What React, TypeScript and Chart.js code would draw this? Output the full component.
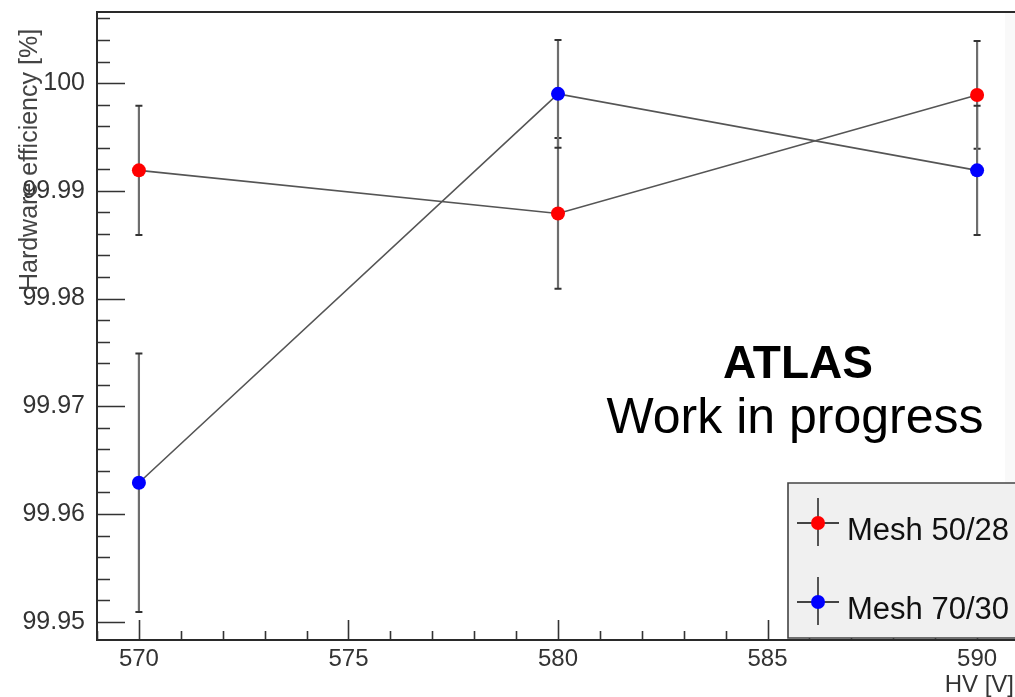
import React, { useEffect, useRef } from "react";
import { Chart, registerables } from "chart.js";

Chart.register(...registerables);

// ---- data ----
const HV_VALUES = [570, 580, 590];
const MESH_50_28 = [99.9919, 99.9879, 99.9989];
const MESH_50_28_ERR = [0.006, 0.007, 0.005];
const MESH_70_30 = [99.9629, 99.999, 99.9919];
const MESH_70_30_ERR = [0.012, 0.005, 0.006];
const SERIES_LABELS = ["Mesh 50/28", "Mesh 70/30"];
const SERIES_COLORS = ["#ff0000", "#0000ff"];

const X_TICKS = [570, 575, 580, 585, 590];
const X_TICK_LABELS = ["570", "575", "580", "585", "590"];
const Y_TICKS = [99.95, 99.96, 99.97, 99.98, 99.99, 100];
const Y_TICK_LABELS = ["99.95", "99.96", "99.97", "99.98", "99.99", "100"];
const X_MIN = 569;
const X_MAX = 591;
const Y_MIN = 99.9483;
const Y_MAX = 100.0066;

const X_TITLE = "HV [V]";
const Y_TITLE = "Hardware efficiency [%]";
const BANNER_1 = "ATLAS";
const BANNER_2 = "Work in progress";

const FONT = '"Liberation Sans", Arial, Helvetica, sans-serif';
const CANVAS_W = 1040;
const CANVAS_H = 697;

const ERRORS = [MESH_50_28_ERR, MESH_70_30_ERR];

const rootPlugin = {
  id: "rootStyle",
  beforeDatasetsDraw(chart: any) {
    const ctx = chart.ctx;
    const xs = chart.scales.x;
    const ys = chart.scales.y;
    ctx.save();
    chart.data.datasets.forEach((ds: any, di: number) => {
      const errs = ERRORS[di];
      ds.data.forEach((p: any, i: number) => {
        const px = xs.getPixelForValue(p.x);
        const yt = ys.getPixelForValue(p.y + errs[i]);
        const yb = ys.getPixelForValue(p.y - errs[i]);
        ctx.strokeStyle = "#6e6e6e";
        ctx.lineWidth = 2.2;
        ctx.beginPath();
        ctx.moveTo(px, yt);
        ctx.lineTo(px, yb);
        ctx.stroke();
        ctx.strokeStyle = "#333";
        ctx.lineWidth = 2;
        ctx.beginPath();
        ctx.moveTo(px - 3.5, yt);
        ctx.lineTo(px + 3.5, yt);
        ctx.moveTo(px - 3.5, yb);
        ctx.lineTo(px + 3.5, yb);
        ctx.stroke();
      });
    });
    ctx.restore();
  },
  beforeDraw(chart: any) {
    const ctx = chart.ctx;
    const a = chart.chartArea;
    ctx.save();
    ctx.fillStyle = "#ffffff";
    ctx.fillRect(0, 0, chart.width, chart.height);
    ctx.fillStyle = "#f9f9f9";
    ctx.fillRect(1005, a.top, a.right - 1005, a.bottom - a.top);
    ctx.restore();
  },
  afterDraw(chart: any) {
    const ctx = chart.ctx;
    const a = chart.chartArea;
    const xs = chart.scales.x;
    const ys = chart.scales.y;
    ctx.save();

    // ticks (inward)
    ctx.strokeStyle = "#333";
    ctx.lineWidth = 1.6;
    ctx.beginPath();
    for (let k = -1; k <= 30; k++) {
      const vv = 99.95 + k * 0.002;
      if (vv < Y_MIN || vv > Y_MAX) continue;
      const y = Math.round(ys.getPixelForValue(vv)) + 0.5;
      const major = k % 5 === 0;
      const len = major ? 28 : 13;
      ctx.moveTo(a.left, y);
      ctx.lineTo(a.left + len, y);
    }
    for (let v = 569; v <= 591; v += 1) {
      const x = Math.round(xs.getPixelForValue(v)) + 0.5;
      const major = v % 5 === 0;
      const len = major ? 20 : 9;
      ctx.moveTo(x, a.bottom);
      ctx.lineTo(x, a.bottom - len);
    }
    ctx.stroke();

    // frame
    ctx.strokeStyle = "#2a2a2a";
    ctx.lineWidth = 2;
    ctx.strokeRect(a.left, a.top, a.right - a.left, a.bottom - a.top);

    // axis titles
    ctx.fillStyle = "#333";
    ctx.font = `24px ${FONT}`;
    ctx.textAlign = "right";
    ctx.textBaseline = "alphabetic";
    ctx.fillText(X_TITLE, 1014, 692);

    ctx.save();
    ctx.translate(37, 160);
    ctx.rotate(-Math.PI / 2);
    ctx.font = `25px ${FONT}`;
    ctx.textAlign = "center";
    ctx.fillStyle = "#444";
    ctx.fillText(Y_TITLE, 0, 0);
    ctx.restore();

    // banner
    ctx.fillStyle = "#000";
    ctx.textAlign = "center";
    ctx.font = `bold 46px ${FONT}`;
    ctx.fillText(BANNER_1, 798, 378);
    ctx.font = `50px ${FONT}`;
    ctx.fillText(BANNER_2, 795, 433);

    // legend
    const lx = 788, ly = 483, lb = 638;
    ctx.fillStyle = "#f0f0f0";
    ctx.fillRect(lx, ly, CANVAS_W - lx, lb - ly);
    ctx.strokeStyle = "#444";
    ctx.lineWidth = 1.6;
    ctx.beginPath();
    ctx.moveTo(CANVAS_W, ly);
    ctx.lineTo(lx, ly);
    ctx.lineTo(lx, lb);
    ctx.lineTo(CANVAS_W, lb);
    ctx.stroke();
    const rowY = [523, 602];
    SERIES_LABELS.forEach((lab, i) => {
      const cy = rowY[i];
      const mx = 818;
      ctx.strokeStyle = "#444";
      ctx.lineWidth = 1.8;
      ctx.beginPath();
      ctx.moveTo(797, cy);
      ctx.lineTo(839, cy);
      ctx.moveTo(mx, cy - 25);
      ctx.lineTo(mx, cy + 23);
      ctx.stroke();
      ctx.fillStyle = SERIES_COLORS[i];
      ctx.beginPath();
      ctx.arc(mx, cy, 7, 0, Math.PI * 2);
      ctx.fill();
      ctx.fillStyle = "#111";
      ctx.textAlign = "left";
      ctx.font = `31px ${FONT}`;
      ctx.fillText(lab, 847, cy + 17);
    });
    ctx.restore();
  },
};

export default function App() {
  const ref = useRef<HTMLCanvasElement | null>(null);
  useEffect(() => {
    if (!ref.current) return;
    const mk = (vals: number[]) => HV_VALUES.map((x, i) => ({ x, y: vals[i] }));
    const chart = new Chart(ref.current, {
      type: "scatter",
      data: {
        datasets: [
          {
            label: SERIES_LABELS[0],
            data: mk(MESH_50_28),
            showLine: true,
            borderColor: "#555",
            borderWidth: 1.6,
            pointRadius: 7,
            pointBorderWidth: 0,
            pointBackgroundColor: SERIES_COLORS[0],
            pointBorderColor: SERIES_COLORS[0],
          },
          {
            label: SERIES_LABELS[1],
            data: mk(MESH_70_30),
            showLine: true,
            borderColor: "#555",
            borderWidth: 1.6,
            pointRadius: 7,
            pointBorderWidth: 0,
            pointBackgroundColor: SERIES_COLORS[1],
            pointBorderColor: SERIES_COLORS[1],
          },
        ],
      },
      options: {
        responsive: false,
        animation: false,
        layout: { padding: { top: 12, right: CANVAS_W - 1019, left: 0, bottom: 0 } },
        plugins: { legend: { display: false }, tooltip: { enabled: false } },
        scales: {
          x: {
            type: "linear",
            min: X_MIN,
            max: X_MAX,
            grid: { display: false, drawTicks: false },
            border: { display: false },
            afterBuildTicks: (s: any) => {
              s.ticks = X_TICKS.map((v) => ({ value: v }));
            },
            afterFit: (s: any) => {
              s.height = 57;
              s.paddingLeft = 0;
              s.paddingRight = 0;
            },
            ticks: {
              autoSkip: false,
              maxRotation: 0,
              padding: 5,
              color: "#333",
              font: { family: FONT, size: 24 },
              callback: (_v: any, i: number) => X_TICK_LABELS[i],
            },
          },
          y: {
            type: "linear",
            min: Y_MIN,
            max: Y_MAX,
            grid: { display: false, drawTicks: false },
            border: { display: false },
            afterBuildTicks: (s: any) => {
              s.ticks = Y_TICKS.map((v) => ({ value: v }));
            },
            afterFit: (s: any) => {
              s.width = 97;
              s.paddingTop = 0;
              s.paddingBottom = 0;
            },
            ticks: {
              autoSkip: false,
              padding: 12,
              color: "#333",
              font: { family: FONT, size: 25 },
              callback: (_v: any, i: number) => Y_TICK_LABELS[i],
            },
          },
        },
      },
      plugins: [rootPlugin],
    });
    return () => chart.destroy();
  }, []);
  return (
    <div
      style={{
        position: "absolute",
        left: 0,
        top: 0,
        width: 1015,
        height: 697,
        overflow: "hidden",
        background: "#fff",
      }}
    >
      <canvas ref={ref} width={CANVAS_W} height={CANVAS_H} style={{ display: "block" }} />
    </div>
  );
}
